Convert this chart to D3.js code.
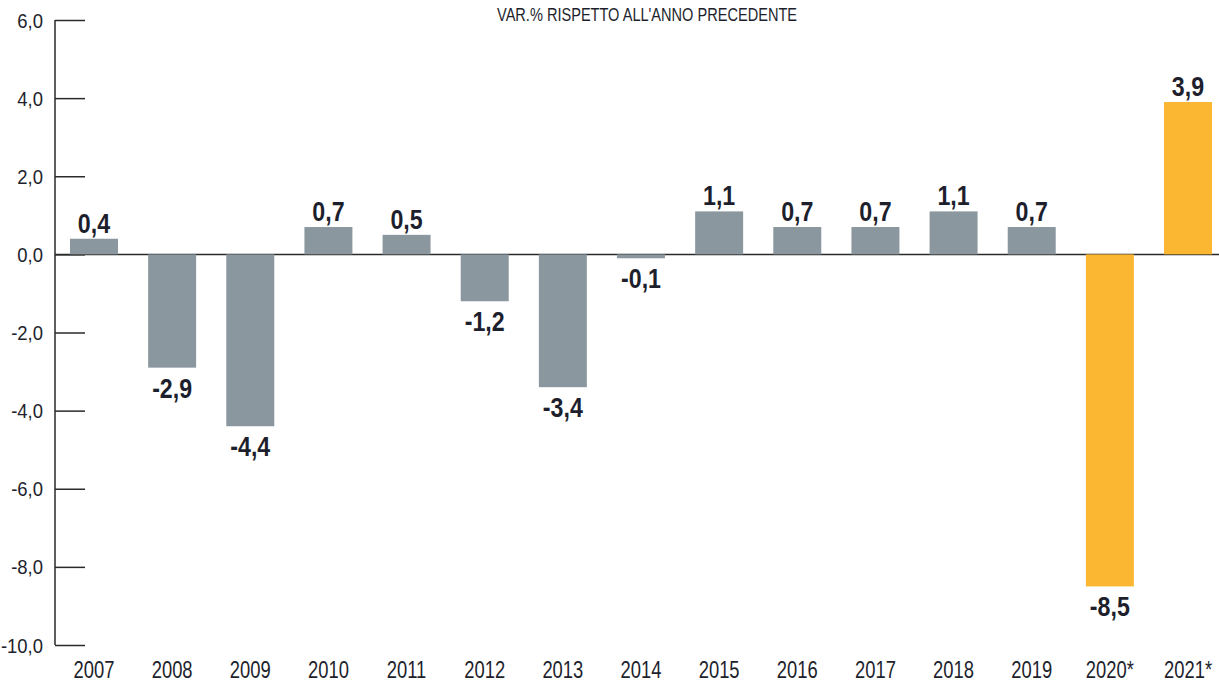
<!DOCTYPE html>
<html>
<head>
<meta charset="utf-8">
<script src="https://cdn.jsdelivr.net/npm/d3@7"></script>
<style>
  body { margin: 0; background: #fff; }
  text { font-family: "Liberation Sans", Arial, sans-serif; fill: #1e1f2d; }
</style>
</head>
<body>
<div id="chart"></div>
<script>
// data
var years = ["2007","2008","2009","2010","2011","2012","2013","2014","2015","2016","2017","2018","2019","2020*","2021*"];
var values = [0.4, -2.9, -4.4, 0.7, 0.5, -1.2, -3.4, -0.1, 1.1, 0.7, 0.7, 1.1, 0.7, -8.5, 3.9];
var forecast = [false,false,false,false,false,false,false,false,false,false,false,false,false,true,true];
var yTicks = [6, 4, 2, 0, -2, -4, -6, -8, -10];
var title = "VAR.% RISPETTO ALL'ANNO PRECEDENTE";

var barData = years.map(function(y, i) {
  return {year: y, value: values[i], est: forecast[i]};
});

var width = 1219, height = 683;
// comma decimals, plain hyphen for minus
var fmt = function(v) { return v.toFixed(1).replace(".", ","); };

// condensed look: squeeze a normal font horizontally
function place(sel, fx, fy, sx) {
  sel.attr("transform", function(d, i) {
    return "translate(" + fx(d, i) + "," + fy(d, i) + ") scale(" + sx + ",1)";
  });
}

var svg = d3.select("#chart").append("svg")
  .attr("width", width)
  .attr("height", height);

var x = d3.scaleBand()
  .domain(years)
  .range([70, 1212])
  .paddingInner(0.386)
  .paddingOuter(0);

var y = d3.scaleLinear()
  .domain([-10, 6])
  .range([645, 20]);

// title
svg.append("text")
  .attr("x", 647)
  .attr("y", 21)
  .attr("text-anchor", "middle")
  .attr("textLength", 300)
  .attr("lengthAdjust", "spacingAndGlyphs")
  .style("font-size", "19px")
  .text(title);

// y axis
var yAxis = svg.append("g")
  .attr("transform", "translate(55,0)")
  .call(d3.axisRight(y).tickValues(yTicks).tickSize(30).tickFormat(""));
yAxis.select(".domain").attr("stroke", "#2a2a2a").attr("stroke-width", 1.5)
  .attr("d", "M0," + y(6) + "V" + y(-10));
yAxis.selectAll(".tick line").attr("stroke", "#2a2a2a").attr("stroke-width", 1.5);

var yLabels = svg.append("g")
  .selectAll("text")
  .data(yTicks)
  .enter()
  .append("text")
    .attr("dy", "0.36em")
    .attr("text-anchor", "end")
    .style("font-size", "21px")
    .text(fmt);
place(yLabels, function() { return 43; }, function(d) { return y(d); }, 0.88);

// zero line
svg.append("line")
  .attr("x1", 55)
  .attr("x2", width)
  .attr("y1", y(0))
  .attr("y2", y(0))
  .attr("stroke", "#2a2a2a")
  .attr("stroke-width", 1.5);

// bars
svg.append("g")
  .selectAll("rect")
  .data(barData)
  .enter()
  .append("rect")
    .attr("x", function(d) { return x(d.year); })
    .attr("width", x.bandwidth())
    .attr("y", function(d) { return y(Math.max(0, d.value)); })
    .attr("height", function(d) { return Math.abs(y(d.value) - y(0)); })
    .attr("fill", function(d) { return d.est ? "#fbb632" : "#8b979e"; });

// value labels
var valLabels = svg.append("g")
  .selectAll("text")
  .data(barData)
  .enter()
  .append("text")
    .attr("text-anchor", "middle")
    .style("font-size", "27px")
    .style("font-weight", "bold")
    .text(function(d) { return fmt(d.value); });
place(valLabels,
  function(d) { return x(d.year) + x.bandwidth() / 2; },
  function(d) { return d.value >= 0 ? y(d.value) - 6 : y(d.value) + 30; },
  0.86);

// year labels
var yearLabels = svg.append("g")
  .selectAll("text")
  .data(years)
  .enter()
  .append("text")
    .attr("text-anchor", "middle")
    .style("font-size", "23px")
    .text(function(d) { return d; });
place(yearLabels,
  function(d) { return x(d) + x.bandwidth() / 2; },
  function() { return 678; },
  0.8);
</script>
</body>
</html>
